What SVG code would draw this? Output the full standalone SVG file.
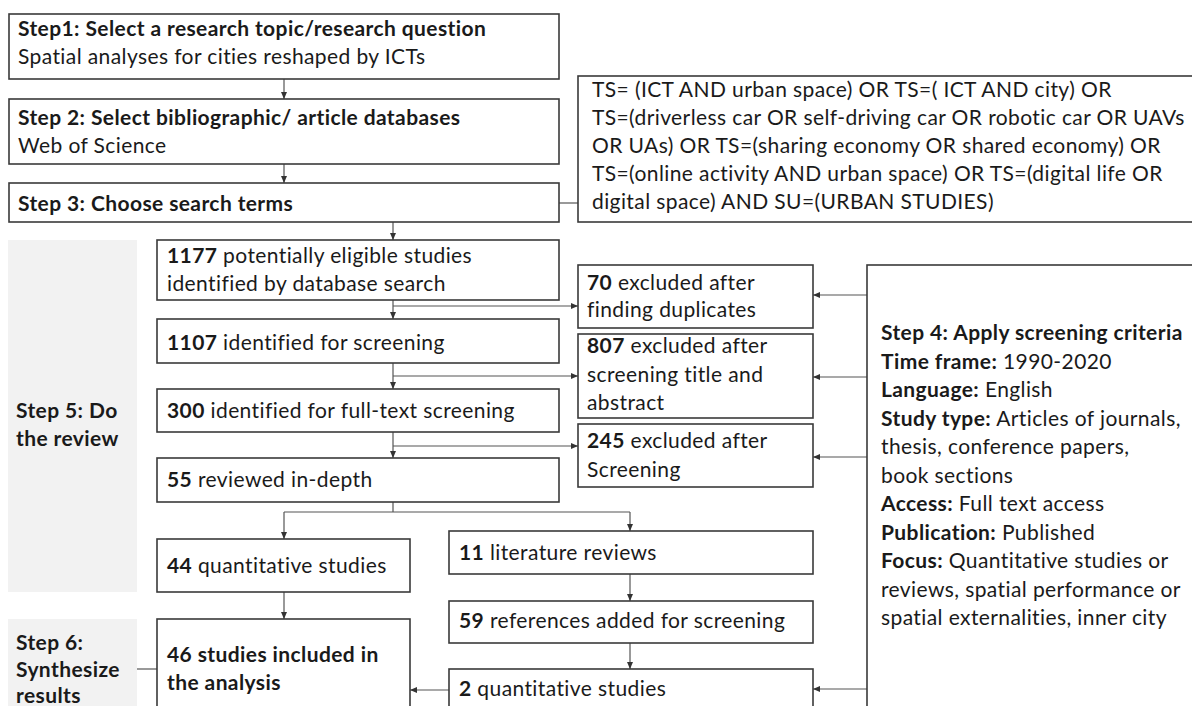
<svg xmlns="http://www.w3.org/2000/svg" width="1192" height="706" viewBox="0 0 1192 706">
<style>
.box{fill:#fff;stroke:#3a3a3a;stroke-width:1.6}
.panel{fill:#f2f2f2}
.ln{stroke:#555;stroke-width:1.2;fill:none}
.ar{marker-end:url(#ah)}
text{font-family:Lato,"Open Sans","Liberation Sans",sans-serif;font-size:21px;letter-spacing:0.4px;fill:#1a1a1a}
.b{font-weight:bold}
</style>
<defs>
<marker id="ah" markerUnits="userSpaceOnUse" markerWidth="8" markerHeight="8" refX="7" refY="3" orient="auto">
<path d="M0,0 L7,3 L0,6 z" fill="#333"/>
</marker>
</defs>
<rect x="0" y="0" width="1192" height="706" fill="#fff"/>

<g id="step5-panel">
<rect class="panel" x="8" y="240" width="129" height="352"/>
<text class="b" x="16" y="418">Step 5: Do</text>
<text class="b" x="16" y="446">the review</text>
</g>
<g id="step6-panel">
<rect class="panel" x="8" y="619" width="129" height="90"/>
<text class="b" x="16" y="650">Step 6:</text>
<text class="b" x="16" y="677">Synthesize</text>
<text class="b" x="16" y="703">results</text>
</g>

<g id="connectors">
<path class="ln ar" d="M284,79 V99"/>
<path class="ln ar" d="M284,164 V183"/>
<path class="ln" d="M559,203 H578"/>
<path class="ln ar" d="M393,222 V240"/>
<path class="ln ar" d="M393,300 V319"/>
<path class="ln ar" d="M393,306 H578"/>
<path class="ln ar" d="M393,363 V389"/>
<path class="ln ar" d="M393,376 H578"/>
<path class="ln ar" d="M393,432 V458"/>
<path class="ln ar" d="M393,446 H578"/>
<path class="ln" d="M393,502 V512 M284,512 H630"/>
<path class="ln ar" d="M284,512 V539"/>
<path class="ln ar" d="M630,512 V531"/>
<path class="ln ar" d="M284,592 V619"/>
<path class="ln ar" d="M630,574 V601"/>
<path class="ln ar" d="M630,643 V669"/>
<path class="ln ar" d="M449,690 H410"/>
<path class="ln" d="M137,669 H157"/>
<path class="ln ar" d="M867,295 H813"/>
<path class="ln ar" d="M867,377 H813"/>
<path class="ln ar" d="M867,457 H813"/>
<path class="ln ar" d="M867,689 H813"/>
</g>

<g id="step1">
<rect class="box" x="9" y="14" width="550" height="65"/>
<text class="b" x="18" y="36">Step1: Select a research topic/research question</text>
<text x="18" y="64">Spatial analyses for cities reshaped by ICTs</text>
</g>
<g id="step2">
<rect class="box" x="9" y="99" width="550" height="65"/>
<text class="b" x="18" y="125">Step 2: Select bibliographic/ article databases</text>
<text x="18" y="153">Web of Science</text>
</g>
<g id="step3">
<rect class="box" x="9" y="183" width="550" height="39"/>
<text class="b" x="18" y="211">Step 3: Choose search terms</text>
</g>
<g id="search-terms">
<rect class="box" x="578" y="76" width="630" height="146"/>
<text x="592" y="97">TS= (ICT AND urban space) OR TS=( ICT AND city) OR</text>
<text x="592" y="125">TS=(driverless car OR self-driving car OR robotic car OR UAVs</text>
<text x="592" y="153">OR UAs) OR TS=(sharing economy OR shared economy) OR</text>
<text x="592" y="181">TS=(online activity AND urban space) OR TS=(digital life OR</text>
<text x="592" y="209">digital space) AND SU=(URBAN STUDIES)</text>
</g>

<g id="n1177">
<rect class="box" x="157" y="240" width="402" height="60"/>
<text x="167" y="263"><tspan class="b">1177</tspan> potentially eligible studies</text>
<text x="167" y="291">identified by database search</text>
</g>
<g id="n1107">
<rect class="box" x="157" y="319" width="402" height="44"/>
<text x="167" y="350"><tspan class="b">1107</tspan> identified for screening</text>
</g>
<g id="n300">
<rect class="box" x="157" y="389" width="402" height="43"/>
<text x="167" y="418"><tspan class="b">300</tspan> identified for full-text screening</text>
</g>
<g id="n55">
<rect class="box" x="157" y="458" width="402" height="44"/>
<text x="167" y="487"><tspan class="b">55</tspan> reviewed in-depth</text>
</g>

<g id="x70">
<rect class="box" x="578" y="265" width="235" height="63"/>
<text x="587" y="290"><tspan class="b">70</tspan> excluded after</text>
<text x="587" y="317">finding duplicates</text>
</g>
<g id="x807">
<rect class="box" x="578" y="334" width="235" height="84"/>
<text x="587" y="353"><tspan class="b">807</tspan> excluded after</text>
<text x="587" y="382">screening title and</text>
<text x="587" y="410">abstract</text>
</g>
<g id="x245">
<rect class="box" x="578" y="424" width="235" height="63"/>
<text x="587" y="448"><tspan class="b">245</tspan> excluded after</text>
<text x="587" y="477">Screening</text>
</g>

<g id="step4">
<rect class="box" x="867" y="265" width="340" height="460"/>
<text class="b" x="881" y="340">Step 4: Apply screening criteria</text>
<text x="881" y="368.5"><tspan class="b">Time frame:</tspan> 1990-2020</text>
<text x="881" y="397"><tspan class="b">Language:</tspan> English</text>
<text x="881" y="425.5"><tspan class="b">Study type:</tspan> Articles of journals,</text>
<text x="881" y="454">thesis, conference papers,</text>
<text x="881" y="482.5">book sections</text>
<text x="881" y="511"><tspan class="b">Access:</tspan> Full text access</text>
<text x="881" y="539.5"><tspan class="b">Publication:</tspan> Published</text>
<text x="881" y="568"><tspan class="b">Focus:</tspan> Quantitative studies or</text>
<text x="881" y="596.5">reviews, spatial performance or</text>
<text x="881" y="625">spatial externalities, inner city</text>
</g>

<g id="n44">
<rect class="box" x="157" y="539" width="253" height="53"/>
<text x="167" y="573"><tspan class="b">44</tspan> quantitative studies</text>
</g>
<g id="n46">
<rect class="box" x="157" y="619" width="253" height="100"/>
<text class="b" x="167" y="662">46 studies included in</text>
<text class="b" x="167" y="690">the analysis</text>
</g>
<g id="n11">
<rect class="box" x="449" y="531" width="364" height="43"/>
<text x="459" y="560"><tspan class="b">11</tspan> literature reviews</text>
</g>
<g id="n59">
<rect class="box" x="449" y="601" width="364" height="42"/>
<text x="459" y="628"><tspan class="b">59</tspan> references added for screening</text>
</g>
<g id="n2">
<rect class="box" x="449" y="669" width="364" height="60"/>
<text x="459" y="696"><tspan class="b">2</tspan> quantitative studies</text>
</g>
</svg>
